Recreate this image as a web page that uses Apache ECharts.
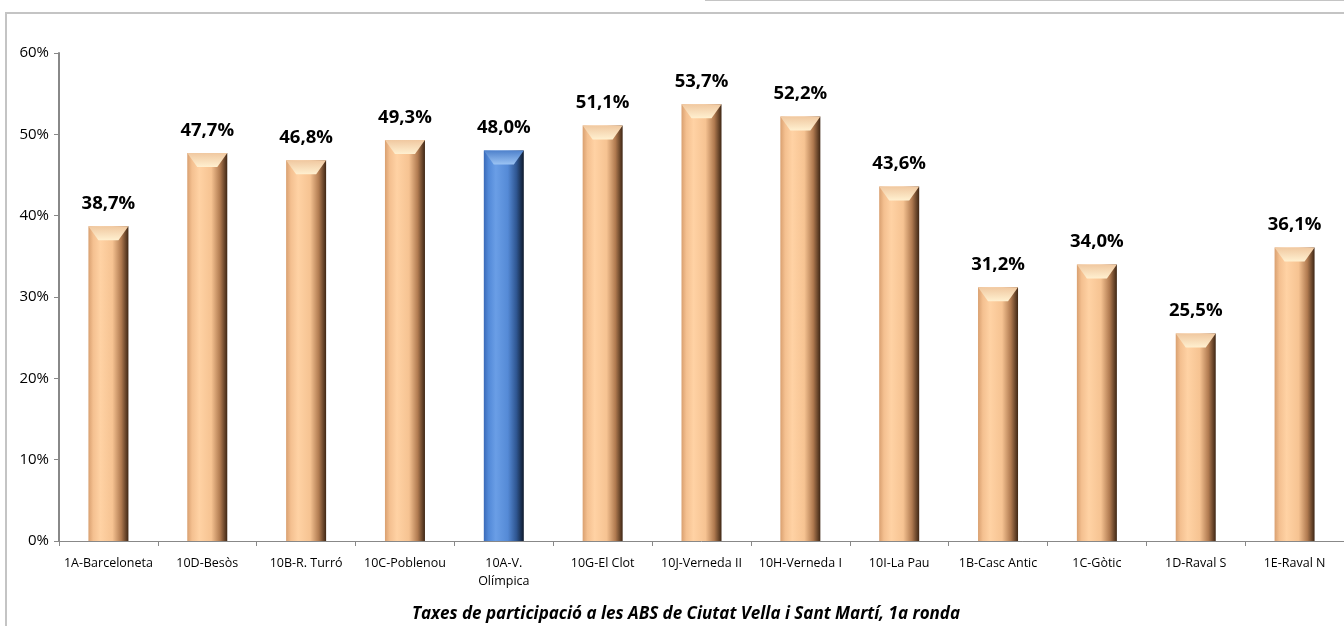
<!DOCTYPE html>
<html><head><meta charset="utf-8">
<script src="https://cdn.jsdelivr.net/npm/echarts@6/dist/echarts.min.js"></script>
<style>html,body{margin:0;padding:0;background:#fff}#c{width:1344px;height:626px}</style>
</head><body><div id="c"></div>
<script>
const categories = ['1A-Barceloneta','10D-Besòs','10B-R. Turró','10C-Poblenou','10A-V.\nOlímpica','10G-El Clot','10J-Verneda II','10H-Verneda I','10I-La Pau','1B-Casc Antic','1C-Gòtic','1D-Raval S','1E-Raval N'];
const values = [38.7,47.7,46.8,49.3,48.0,51.1,53.7,52.2,43.6,31.2,34.0,25.5,36.1];
const highlightIndex = 4;
const yTicks = [0,10,20,30,40,50,60];
const titleText = 'Taxes de participació a les ABS de Ciutat Vella i Sant Martí, 1a ronda';

const FONT = 'Open Sans, Liberation Sans, sans-serif';
const peach = {type:'linear',x:0,y:0,x2:1,y2:0,colorStops:[
  {offset:0,color:'#d9a070'},{offset:0.12,color:'#f4c090'},{offset:0.3,color:'#ffd2a4'},
  {offset:0.6,color:'#f6c392'},{offset:0.82,color:'#b07a50'},{offset:1,color:'#3e2614'}]};
const blue = {type:'linear',x:0,y:0,x2:1,y2:0,colorStops:[
  {offset:0,color:'#3a6ab8'},{offset:0.12,color:'#5289d8'},{offset:0.3,color:'#6a9ee6'},
  {offset:0.6,color:'#558ad6'},{offset:0.82,color:'#2e5590'},{offset:1,color:'#0e1a2c'}]};
const peachTop = {type:'linear',x:0,y:0,x2:0,y2:1,colorStops:[{offset:0,color:'#f0c8a0'},{offset:1,color:'#fff0d0'}]};
const blueTop = {type:'linear',x:0,y:0,x2:0,y2:1,colorStops:[{offset:0,color:'#4f82cc'},{offset:1,color:'#9cc4f4'}]};

const chart = echarts.init(document.getElementById('c'));
chart.setOption({
  animation:false,
  grid:{left:59,right:-15,top:53,bottom:85,containLabel:false},
  title:{text:titleText,left:681,textAlign:'center',top:601,
    textStyle:{fontFamily:FONT,fontSize:17,fontWeight:'bold',fontStyle:'italic',color:'#000'}},
  xAxis:{type:'category',data:categories,
    axisLine:{lineStyle:{color:'#888',width:1}},
    axisTick:{show:true,alignWithLabel:false,length:5,lineStyle:{color:'#888'}},
    axisLabel:{interval:0,color:'#000',fontSize:12.5,margin:13,lineHeight:18,fontFamily:FONT}},
  yAxis:{type:'value',min:0,max:60,interval:10,
    axisLine:{show:true,lineStyle:{color:'#888',width:2}},
    axisTick:{show:true,length:5,lineStyle:{color:'#888'}},
    splitLine:{show:false},
    axisLabel:{formatter:v=>v+'%',color:'#000',fontSize:15,margin:10,fontFamily:FONT}},
  series:[{type:'bar',barWidth:40,barGap:'-100%',z:2,
    data:values.map((v,i)=>({value:v,itemStyle:{color:i===highlightIndex?blue:peach}})),
    label:{show:true,position:'top',distance:13,formatter:p=>p.value.toFixed(1).replace('.',',')+'%',
      fontSize:18.5,fontWeight:'bold',color:'#000',fontFamily:FONT}},
   {type:'pictorialBar',barWidth:40,barGap:'-100%',z:3,symbolPosition:'end',symbolSize:[40,14],
    symbol:'path://M0,0 L40,0 L30,14 L10,14 Z',silent:true,
    data:values.map((v,i)=>({value:v,itemStyle:{color:i===highlightIndex?blueTop:peachTop}}))}],
  graphic:[
    {type:'rect',shape:{x:6,y:13,width:1400,height:700},style:{fill:'none',stroke:'#c4c4c4',lineWidth:2},silent:true},
    {type:'line',shape:{x1:705,y1:0,x2:1344,y2:0},style:{stroke:'#c4c4c4',lineWidth:2},silent:true}
  ]
});
</script></body></html>
